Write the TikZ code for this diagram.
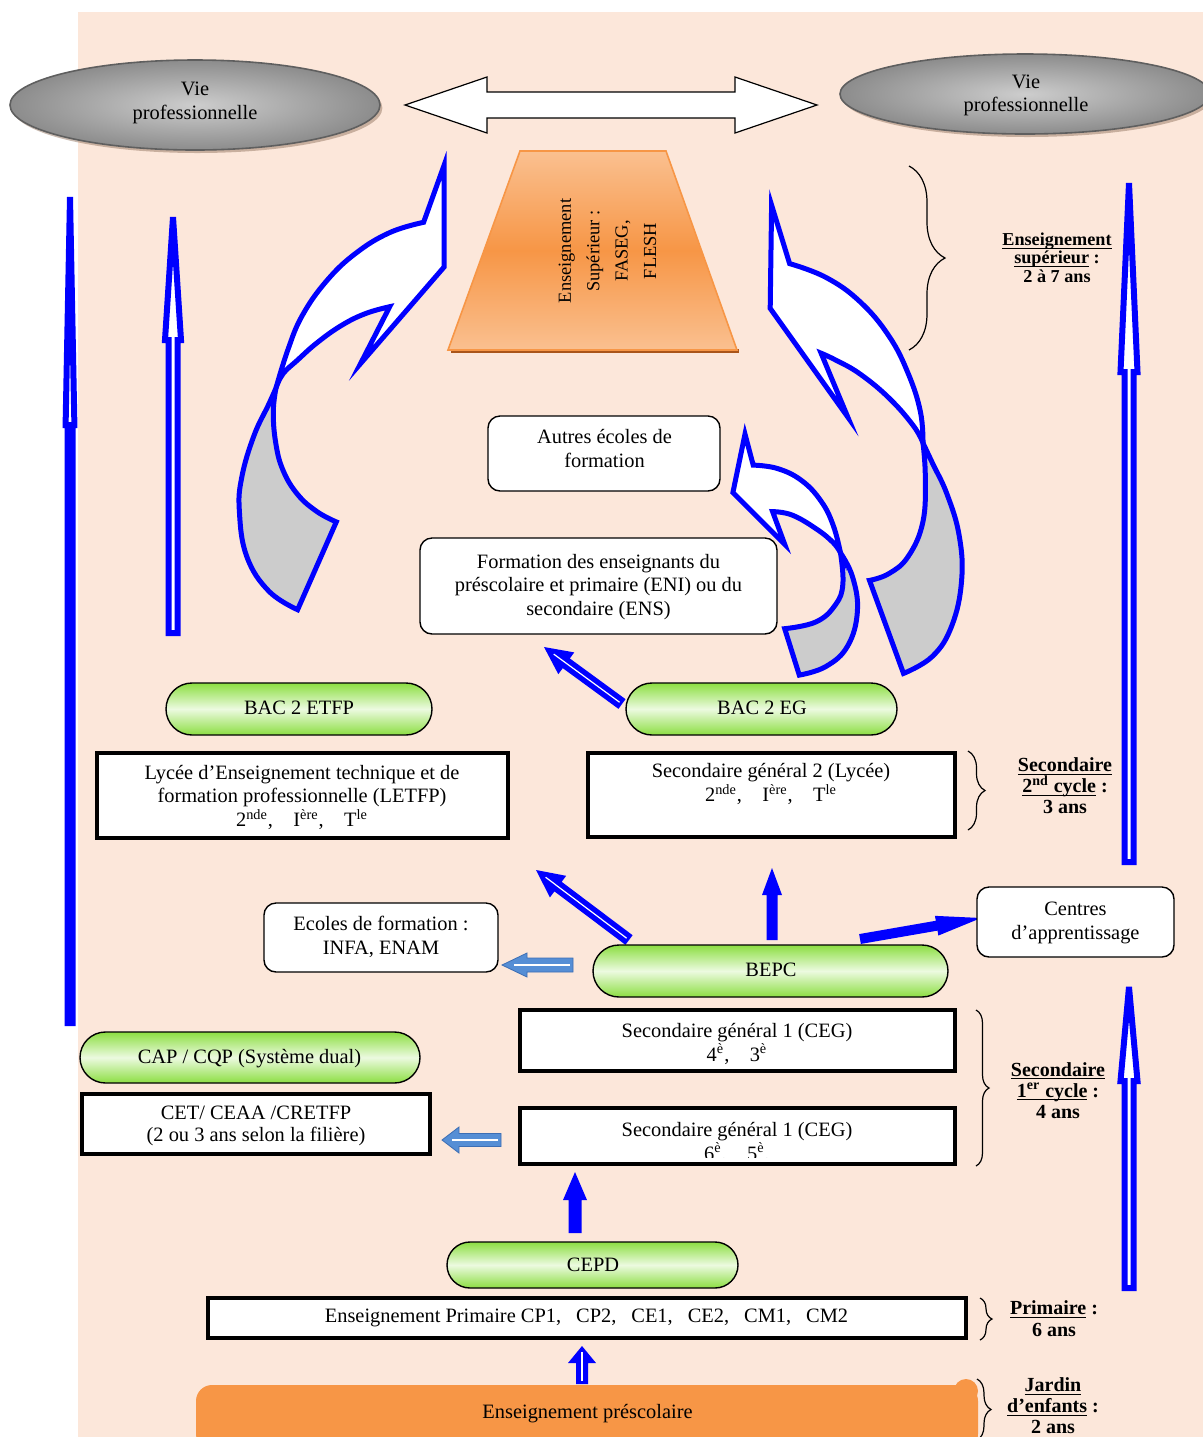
\documentclass[tikz,border=0pt]{standalone}
\usepackage{fontspec}
\setmainfont{Liberation Serif}
\usetikzlibrary{calc,shapes.geometric,shadows,decorations.pathreplacing}

\definecolor{peach}{RGB}{252,231,218}
\definecolor{pureblue}{RGB}{0,0,255}
\definecolor{skyarrow}{RGB}{85,142,213}
\definecolor{skyedge}{RGB}{60,110,180}
\definecolor{pillgreen}{RGB}{140,222,66}
\definecolor{pilllight}{RGB}{236,250,224}
\definecolor{orangemid}{RGB}{247,150,70}
\definecolor{orangelight}{RGB}{250,192,144}
\definecolor{orangedark}{RGB}{170,85,25}
\definecolor{bandgray}{RGB}{204,204,204}
\definecolor{ellgray}{RGB}{205,205,205}
\definecolor{ellgraydark}{RGB}{140,140,140}
\definecolor{ellborder}{RGB}{95,95,95}
\definecolor{shadowbrown}{RGB}{150,120,100}

% block arrow: style, tail, tip, shaft half width, head half width, head length
\newcommand\blockarr[6]{%
  \coordinate (ba-base) at ($(#3)!#6!(#2)$);
  \path[#1] ($(#2)!#4!90:(#3)$) -- ($(ba-base)!#4!90:(#3)$) -- ($(ba-base)!#5!90:(#3)$) -- (#3)
    -- ($(ba-base)!#5!-90:(#3)$) -- ($(ba-base)!#4!-90:(#3)$) -- ($(#2)!#4!-90:(#3)$) -- cycle;}
% thin white line along the axis of a block arrow: tail, tip, gap left before the tip
\newcommand\whitecore[3]{%
  \draw[white, line width=0.6pt] ($(#1)!1.5pt!(#2)$) -- ($(#2)!#3!(#1)$);}
\newcommand\ulx[1]{\underline{\smash{#1}}\vphantom{#1}}

\begin{document}
\begin{tikzpicture}[x=0.5pt,y=-0.5pt,
  every node/.style={inner sep=0pt, outer sep=0pt},
  % multi-line texts are placed by the baseline of their last line
  txt/.style={align=center, anchor=base, font=\fontsize{10.2}{11.8}\selectfont},
  sidelbl/.style={align=center, anchor=base, font=\bfseries\fontsize{10}{10.5}\selectfont},
  vieshape/.style={ellipse, draw=ellborder, line width=0.8pt, inner color=ellgray, outer color=ellgraydark,
    drop shadow={shadow xshift=1.2pt, shadow yshift=-1.5pt, fill=shadowbrown, opacity=0.5}},
  frame/.style={draw=black, line width=2pt, fill=white},
  rbox/.style={draw=black, line width=0.7pt, fill=white, rounded corners=6pt},
  pill/.style={draw=black, line width=0.7pt, rounded corners=#1, minimum height={2*#1},
    top color=pillgreen, bottom color=pillgreen, middle color=pilllight},
  band/.style={draw=pureblue, line width=2.5pt, line join=miter},
  hollow/.style={draw=pureblue, fill=white, line width=3pt},
  solidarr/.style={fill=pureblue},
  skyarr/.style={fill=skyarrow, draw=skyedge, line width=0.4pt},
  curly/.style={draw=black, line width=0.6pt, decorate, decoration={brace, amplitude=#1}},
]
\useasboundingbox (0,0) rectangle (1203,1437);
\fill[white] (0,0) rectangle (1203,1437);
\fill[peach] (78,12) rectangle (1203,1437);

% braces of the right-hand column
\draw[curly=18pt] (909,166) -- (909,350);
\draw[curly=8.5pt] (968,751) -- (968,830);
\draw[curly=6.5pt] (976,1010) -- (976,1166);
\draw[curly=6pt] (980,1298) -- (980,1340);
\draw[curly=7pt] (977,1379) -- (977,1440);

% long vertical arrows towards working life
\coordinate (vlA0) at (70,1023);  \coordinate (vlA1) at (70,197);
\coordinate (vlB0) at (173,633);  \coordinate (vlB1) at (173,217);
\coordinate (vrA0) at (1129,862); \coordinate (vrA1) at (1129,183);
\coordinate (vrB0) at (1129,1288); \coordinate (vrB1) at (1129,987);
\blockarr{hollow}{vlA0}{vlA1}{1.25pt}{2.2pt}{114pt}
\blockarr{hollow}{vlB0}{vlB1}{2.25pt}{4pt}{61.5pt}
\blockarr{hollow}{vrA0}{vrA1}{2.25pt}{4.25pt}{94.5pt}
\blockarr{hollow}{vrB0}{vrB1}{2.25pt}{4.25pt}{47pt}

% curved arrow on the left, from BAC 2 ETFP to higher education
\filldraw[band, fill=bandgray] plot[smooth, tension=0.7] coordinates {(276,388) (268.5,404.8) (253.9,435.8) (241.8,477.1) (239.4,511.6) (246.7,556.3) (268.5,590.8) (297.6,609.7)}
  -- plot[smooth, tension=0.7] coordinates {(336.3,521.9) (317,511.6) (297.6,494.4) (283,470.2) (275.7,442.7) (273.3,411.7) (276,388)} -- cycle;
\filldraw[band, fill=white] plot[smooth, tension=0.7] coordinates {(276,388) (287.9,349.7) (302.4,315.3) (326.6,280.9) (355.7,253.3) (389.7,232.6) (423.6,222.3)}
  -- (444,165.5) -- (444,267.1) -- (360.6,363.5)
  -- plot[smooth, tension=0.7] coordinates {(389.7,306.7) (365.4,313.6) (341.2,325.6) (317,342.8) (297.6,360) (283,373.8) (276,388)} -- cycle;

% curved arrow on the right, from BAC 2 EG to higher education
\filldraw[band, fill=bandgray] plot[smooth, tension=0.7] coordinates {(923,443) (925.3,477.1) (922.9,521.9) (908.3,556.3) (888.9,573.6) (869.5,580.4)}
  -- plot[smooth, tension=0.7] coordinates {(903.5,673.4) (932.6,656.2) (952,625.2) (961.6,580.4) (959.2,535.7) (947.1,494.4) (932.6,463.4) (923,443)} -- cycle;
\filldraw[band, fill=white] plot[smooth, tension=0.7] coordinates {(923,443) (920.4,411.7) (908.3,373.8) (888.9,336) (859.8,301.5) (825.9,277.4) (789.6,263.6)}
  -- (771.6,205.1) -- (770.2,308.4) -- (847.7,416.9)
  -- plot[smooth, tension=0.7] coordinates {(821.1,353.2) (835.6,360) (859.8,373.8) (888.9,397.9) (913.2,425.5) (923,443)} -- cycle;

% small curved arrow towards the other schools
\filldraw[band, fill=bandgray] plot[smooth, tension=0.7] coordinates {(840.5,552.9) (842.9,583.9) (835.6,604.5) (816.2,621.8) (784.7,628.7)}
  -- plot[smooth, tension=0.7] coordinates {(799.3,675.1) (825.9,666.5) (847.7,645.9) (857.4,611.4) (852.6,577) (840.5,552.9)} -- cycle;
\filldraw[band, fill=white] plot[smooth, tension=0.7] coordinates {(840.5,552.9) (833.2,525.3) (821.1,501.2) (801.7,480.6) (777.4,468.5) (753.2,465.1)}
  -- (745,434.1) -- (732.9,492.6) -- (784.7,544.3)
  -- plot[smooth, tension=0.7] coordinates {(772.6,511.6) (792,515) (816.2,528.8) (833.2,542.6) (840.5,552.9)} -- cycle;

% higher education trapezium
\fill[orangedark] (451,349) -- (739,349) -- (739,353) -- (451,353) -- cycle;
\path[top color=orangelight, bottom color=orangelight, middle color=orangemid, draw=orangemid, line width=0.8pt]
  (520,151) -- (666,151) -- (737,350) -- (448,350) -- cycle;
\node[rotate=90, align=center, font=\fontsize{9.2}{14.2}\selectfont] (sup) at (607.5,251)
  {Enseignement\\Supérieur :\\FASEG,\\FLESH};

% working life
\node[vieshape, minimum width=185pt, minimum height=45pt] (vieL) at (195,105) {};
\node[txt] (vieLt) at (195,119.3) {Vie\\professionnelle};
\node[vieshape, minimum width=185pt, minimum height=40pt] (vieR) at (1025,94) {};
\node[txt] (vieRt) at (1026,111.7) {Vie\\professionnelle};

% two-way arrow between the two working-life ellipses
\coordinate (dblL) at (405,105);
\coordinate (dblR) at (817,105);
\filldraw[fill=white, draw=black, line width=0.6pt] (dblL) -- (487,77) -- (487,92) -- (735,92) -- (735,77)
  -- (dblR) -- (735,133) -- (735,118) -- (487,118) -- (487,133) -- cycle;

% small straight arrows
\coordinate (eg0) at (622,704);   \coordinate (eg1) at (544,647);
\coordinate (bp0) at (629,940);   \coordinate (bp1) at (536,870);
\coordinate (bu0) at (772,940);   \coordinate (bu1) at (772,868);
\coordinate (bc0) at (860,939);   \coordinate (bc1) at (981,918);
\coordinate (bl0) at (573,965);   \coordinate (bl1) at (502,965);
\coordinate (cl0) at (501,1140);  \coordinate (cl1) at (442,1140);
\coordinate (cp0) at (575,1233);  \coordinate (cp1) at (575,1172);
\coordinate (pr0) at (582,1384);  \coordinate (pr1) at (582,1346);
\blockarr{solidarr}{eg0}{eg1}{3pt}{6.75pt}{13.8pt}   \whitecore{eg0}{eg1}{6pt}
\blockarr{solidarr}{bp0}{bp1}{3pt}{6.75pt}{13.8pt}   \whitecore{bp0}{bp1}{6pt}
\blockarr{solidarr}{bu0}{bu1}{2.75pt}{5pt}{13.5pt}
\blockarr{solidarr}{bc0}{bc1}{2.5pt}{5pt}{22.5pt}
\blockarr{skyarr}{bl0}{bl1}{3.5pt}{6pt}{12.5pt}      \whitecore{bl0}{bl1}{6pt}
\blockarr{skyarr}{cl0}{cl1}{3.25pt}{6.5pt}{8.5pt}    \whitecore{cl0}{cl1}{5pt}
\blockarr{solidarr}{cp0}{cp1}{3.25pt}{6pt}{14pt}
\blockarr{solidarr}{pr0}{pr1}{3pt}{7pt}{8.5pt}       \whitecore{pr0}{pr1}{3pt}

% rounded boxes
\node[rbox, minimum width=116pt, minimum height=37.5pt] (autres) at (604,453.5) {};
\node[txt] (autrest) at (604.5,467.5) {Autres écoles de\\formation};
\node[rbox, minimum width=178.5pt, minimum height=48pt] (form) at (598.5,586) {};
\node[txt] (formt) at (598.5,615.5) {Formation des enseignants du\\préscolaire et primaire (ENI) ou du\\secondaire (ENS)};
\node[rbox, minimum width=117pt, minimum height=34.5pt] (ecoles) at (381,937.5) {};
\node[txt] (ecolest) at (381,954.5) {Ecoles de formation :\\INFA, ENAM};
\node[rbox, minimum width=98.5pt, minimum height=35pt] (centres) at (1075.5,922) {};
\node[txt] (centrest) at (1075.5,939) {Centres\\d’apprentissage};

% diplomas
\node[pill=13pt, minimum width=133pt] (bacetfp) at (299,709) {};
\node[txt] (bacetfpt) at (299,714) {BAC 2 ETFP};
\node[pill=13pt, minimum width=135.5pt] (baceg) at (761.5,709) {};
\node[txt] (bacegt) at (762,714) {BAC 2 EG};
\node[pill=13pt, minimum width=177.5pt] (bepc) at (770.5,971) {};
\node[txt] (bepct) at (771,976.7) {BEPC};
\node[pill=12.75pt, minimum width=170pt] (cap) at (250,1057.5) {};
\node[txt] (capt) at (249.5,1063.3) {CAP / CQP (Système dual)};
\node[pill=11.5pt, minimum width=145.5pt] (cepd) at (592.5,1265) {};
\node[txt] (cepdt) at (593,1271) {CEPD};

% school levels
\node[frame, minimum width=205.5pt, minimum height=42.5pt] (letfp) at (302.5,795.5) {};
\node[txt] (letfpt) at (302,826.5) {Lycée d’Enseignement technique et de\\formation professionnelle (LETFP)\\2\textsuperscript{nde},\quad I\textsuperscript{ère},\quad T\textsuperscript{le}};
\node[frame, minimum width=183.5pt, minimum height=42pt] (lycee) at (771.5,795) {};
\node[txt] (lyceet) at (771,801.5) {Secondaire général 2 (Lycée)\\2\textsuperscript{nde},\quad I\textsuperscript{ère},\quad T\textsuperscript{le}};
\node[frame, minimum width=217.5pt, minimum height=30.5pt] (ceg4) at (737.5,1040.5) {};
\node[txt] (ceg4t) at (737,1061) {Secondaire général 1 (CEG)\\4\textsuperscript{è},\quad 3\textsuperscript{è}};
\node[frame, minimum width=217.5pt, minimum height=28pt] (ceg6) at (737.5,1136) {};
\begin{scope}
  \clip (ceg6.north west) rectangle ($(ceg6.south east)+(0,-7)$);
  \node[txt] (ceg6t) at (737,1160) {Secondaire général 1 (CEG)\\6\textsuperscript{è},\quad 5\textsuperscript{è},};
\end{scope}
\draw[line width=2pt] (ceg6.north west) rectangle (ceg6.south east);
\node[frame, minimum width=174pt, minimum height=30pt] (cet) at (256,1124) {};
\node[txt, font=\fontsize{10.2}{10.9}\selectfont] (cett) at (256,1141) {CET/ CEAA /CRETFP\\(2 ou 3 ans selon la filière)};
\node[frame, minimum width=379pt, minimum height=20pt] (prim) at (587,1318) {};
\node[txt] (primt) at (586.5,1322.7) {Enseignement Primaire CP1,\hspace{7.5pt}CP2,\hspace{7.5pt}CE1,\hspace{7.5pt}CE2,\hspace{7.5pt}CM1,\hspace{7.5pt}CM2};

% pre-school scroll
\node[fill=orangemid, rounded corners=8pt, minimum width=391pt, minimum height=32.5pt] (pre) at (587,1417.5) {};
\fill[orangemid] (966,1391) circle (6pt);
\node[txt] (pret) at (587.5,1418.3) {Enseignement préscolaire};

% durations
\node[sidelbl, font=\bfseries\fontsize{9.1}{9.3}\selectfont] (dsup) at (1057,282.5) {\ulx{Enseignement}\\\ulx{supérieur} :\\2 à 7 ans};
\node[sidelbl] (dsec2) at (1065,813.5) {\ulx{Secondaire}\\\ulx{2\textsuperscript{nd} cycle} :\\3 ans};
\node[sidelbl] (dsec1) at (1058,1118) {\ulx{Secondaire}\\\ulx{1\textsuperscript{er} cycle} :\\4 ans};
\node[sidelbl, font=\bfseries\fontsize{10}{10.9}\selectfont] (dprim) at (1054,1336.7) {\ulx{Primaire} :\\6 ans};
\node[sidelbl, font=\bfseries\fontsize{10}{10.4}\selectfont] (djard) at (1053,1433.3) {\ulx{Jardin}\\\ulx{d’enfants} :\\2 ans};
\end{tikzpicture}
\end{document}
